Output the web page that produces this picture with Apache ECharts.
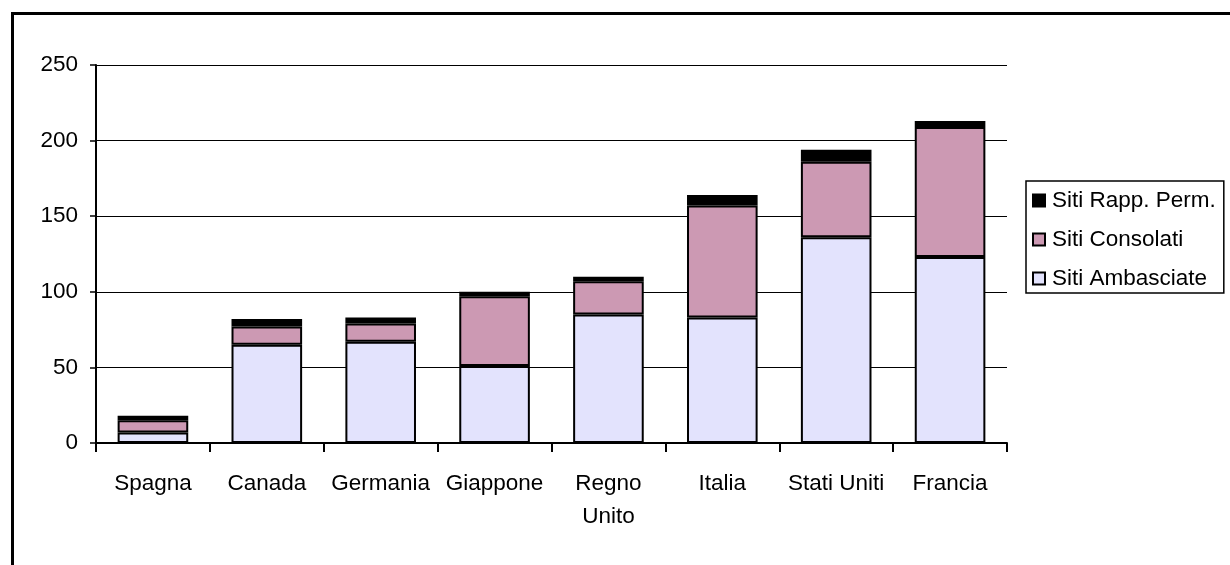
<!DOCTYPE html>
<html>
<head>
<meta charset="utf-8">
<script src="https://cdn.jsdelivr.net/npm/echarts@6/dist/echarts.min.js"></script>
<style>
  html, body { margin: 0; padding: 0; background: #fff; }
  #chart { width: 1230px; height: 565px; }
</style>
</head>
<body>
<div id="chart"></div>
<script>
// categories and values
const paesi = ['Spagna', 'Canada', 'Germania', 'Giappone', 'Regno\nUnito', 'Italia', 'Stati Uniti', 'Francia'];
const ambasciate = [7, 65, 67, 51, 85, 83, 136, 123];
const consolati = [8, 12, 12, 46, 22, 74, 50, 86];
const rappPerm = [3, 5, 4, 3, 3, 7, 8, 4];
const yTicks = [0, 50, 100, 150, 200, 250];

document.addEventListener('DOMContentLoaded', () => {
    const chart = echarts.init(document.getElementById('chart'), null, { renderer: 'canvas' });

    const font = '"Liberation Sans", Arial, sans-serif';
    const barBorder = { borderColor: '#000', borderWidth: 2 };

    const option = {
        animation: false,
        backgroundColor: '#fff',
        textStyle: { fontFamily: font, color: '#000' },
        graphic: [{
            type: 'rect',
            left: 10,
            top: 11,
            shape: { width: 1400, height: 800 },
            style: { fill: 'none', stroke: '#000', lineWidth: 3 },
            silent: true
        }],
        grid: {
            left: 96,
            right: 223,
            top: 65,
            bottom: 122,
            containLabel: false
        },
        legend: {
            orient: 'vertical',
            left: 1026,
            top: 181,
            data: ['Siti Rapp. Perm.', 'Siti Consolati', 'Siti Ambasciate'],
            icon: 'rect',
            itemWidth: 12,
            itemHeight: 12,
            itemGap: 16,
            padding: [8, 8, 3, 6],
            borderColor: '#000',
            borderWidth: 1.5,
            backgroundColor: '#fff',
            textStyle: { fontFamily: font, fontSize: 22.5, color: '#000', padding: [0, 0, 0, 2] }
        },
        xAxis: {
            type: 'category',
            data: paesi,
            axisLine: { lineStyle: { color: '#000', width: 2 } },
            axisTick: { show: true, alignWithLabel: false, length: 9, lineStyle: { color: '#000', width: 2 } },
            axisLabel: {
                interval: 0,
                margin: 24,
                fontSize: 22.5,
                lineHeight: 33,
                color: '#000',
                fontFamily: font
            }
        },
        yAxis: {
            type: 'value',
            min: 0,
            max: 250,
            interval: 50,
            axisLine: { show: true, lineStyle: { color: '#000', width: 2 } },
            axisTick: { show: true, length: 6, lineStyle: { color: '#000', width: 1.5 } },
            splitLine: { show: true, lineStyle: { color: '#000', width: 1.2 } },
            axisLabel: {
                margin: 18,
                fontSize: 22.5,
                color: '#000',
                fontFamily: font,
                formatter: v => yTicks.includes(v) ? String(v) : ''
            }
        },
        series: [
            {
                name: 'Siti Ambasciate',
                type: 'bar',
                stack: 'siti',
                barWidth: '62%',
                data: ambasciate,
                itemStyle: Object.assign({ color: '#E3E3FD' }, barBorder)
            },
            {
                name: 'Siti Consolati',
                type: 'bar',
                stack: 'siti',
                data: consolati,
                itemStyle: Object.assign({ color: '#CC99B3' }, barBorder)
            },
            {
                name: 'Siti Rapp. Perm.',
                type: 'bar',
                stack: 'siti',
                data: rappPerm,
                itemStyle: Object.assign({ color: '#000000' }, barBorder)
            }
        ]
    };

    chart.setOption(option);

    window.addEventListener('resize', () => {
        chart.resize();
    });
});
</script>
</body>
</html>
